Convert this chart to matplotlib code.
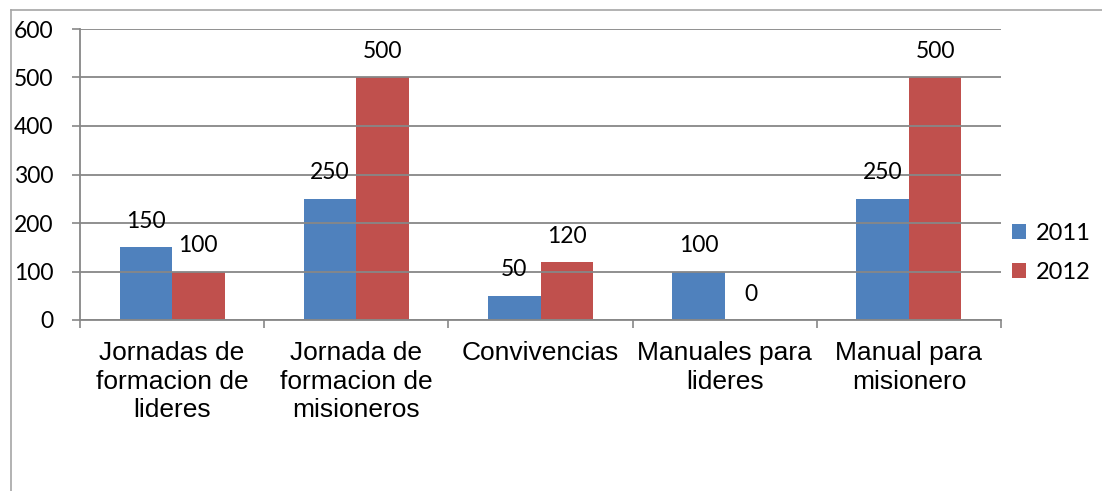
import matplotlib.pyplot as plt
from matplotlib.lines import Line2D
import numpy as np

# --- dados ---
categorias = ["Jornadas de\nformacion de\nlideres",
              "Jornada de\nformacion de\nmisioneros",
              "Convivencias",
              "Manuales para\nlideres",
              "Manual para\nmisionero"]
series = ["2011", "2012"]
valores_2011 = [150, 250, 50, 100, 250]
valores_2012 = [100, 500, 120, 0, 500]

cor_2011 = "#4F81BD"
cor_2012 = "#C0504D"
cinza = "#878787"

W, H = 1102, 491
fig = plt.figure(figsize=(W / 100, H / 100), dpi=100)
ax = fig.add_axes([80 / W, 1 - 320 / H, (1001 - 80) / W, (320 - 29) / H])

x = np.arange(len(categorias)) + 0.5
larg = 0.285
b1 = ax.bar(x - larg / 2, valores_2011, larg, color=cor_2011, label=series[0], zorder=2)
b2 = ax.bar(x + larg / 2, valores_2012, larg, color=cor_2012, label=series[1], zorder=2)

# rótulos dos valores
for barras in (b1, b2):
    for b in barras:
        ax.annotate(f"{int(b.get_height())}",
                    (b.get_x() + b.get_width() / 2, b.get_height()),
                    xytext=(0, 11), textcoords="offset points",
                    ha="center", va="bottom", fontsize=16.5, family="Lato", zorder=4)

ax.set_xlim(0, len(categorias))
ax.set_ylim(0, 600)
ax.set_yticks(range(0, 601, 100))
ax.tick_params(axis="y", length=6, color=cinza, width=1.2, labelsize=16.5, pad=13)
for lbl in ax.get_yticklabels():
    lbl.set_family("Lato")
ax.yaxis.grid(True, color=cinza, linewidth=1.3, zorder=3)
ax.set_axisbelow(False)

ax.set_xticks(range(0, len(categorias) + 1))
ax.set_xticklabels([])
ax.tick_params(axis="x", which="major", length=6, color=cinza, width=1.2)
ax.set_xticks(x, minor=True)
ax.set_xticklabels(categorias, minor=True, fontsize=19, family="Liberation Sans",
                   linespacing=1.25)
ax.tick_params(axis="x", which="minor", length=0, pad=15)

for s in ("top", "right"):
    ax.spines[s].set_visible(False)
for s in ("left", "bottom"):
    ax.spines[s].set_color(cinza)
    ax.spines[s].set_linewidth(1.3)

# moldura do gráfico
fig.add_artist(Line2D([11 / W, 11 / W], [0, 1 - 10 / H], color="#a6a6a6", lw=1.2))
fig.add_artist(Line2D([11 / W, 1], [1 - 10 / H, 1 - 10 / H], color="#a6a6a6", lw=1.2))

fig.legend(loc="center left", bbox_to_anchor=(991 / W, 1 - 253 / H), frameon=False,
           prop={"family": "Lato", "size": 17}, handlelength=0.6, handleheight=0.6,
           handletextpad=0.4, labelspacing=0.75)

fig.savefig("out.png", dpi=100)
